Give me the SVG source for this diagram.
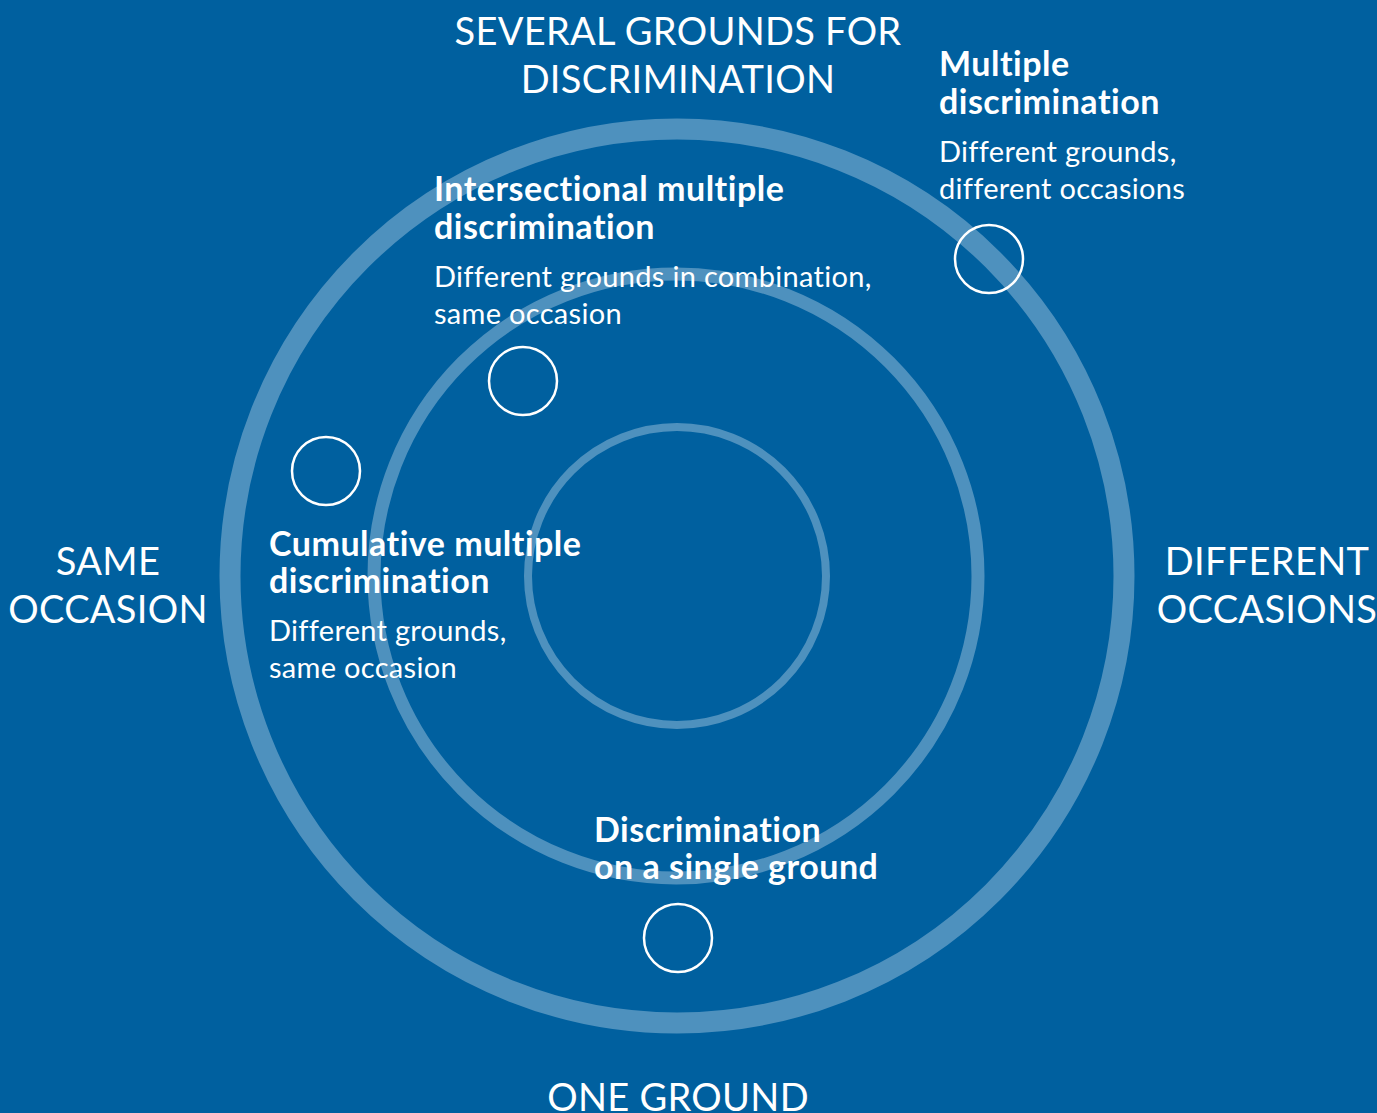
<svg xmlns="http://www.w3.org/2000/svg" width="1377" height="1113" viewBox="0 0 1377 1113">
<style>
.ring{fill:none;stroke:#4E91BE}
.dot{fill:none;stroke:#FFFFFF;stroke-width:2.5}
text{fill:#FFFFFF;font-family:Lato,"Liberation Sans",sans-serif}
.axis{font-size:38px;letter-spacing:0.3px;text-anchor:middle}
.head{font-size:34px;font-weight:bold;letter-spacing:0.5px}
.body{font-size:29px;letter-spacing:0.3px}
</style>
<rect x="0" y="0" width="1377" height="1113" fill="#00609F"/>
<g id="rings">
<circle class="ring" cx="677" cy="576" r="447" stroke-width="21"/>
<circle class="ring" cx="676" cy="576" r="302" stroke-width="13"/>
<circle class="ring" cx="677" cy="576" r="149" stroke-width="8"/>
</g>
<g id="axis-labels">
<text class="axis" x="678" y="45">SEVERAL GROUNDS FOR</text>
<text class="axis" x="678" y="93">DISCRIMINATION</text>
<text class="axis" x="108" y="575">SAME</text>
<text class="axis" x="108" y="623">OCCASION</text>
<text class="axis" x="1267" y="575">DIFFERENT</text>
<text class="axis" x="1267" y="623">OCCASIONS</text>
<text class="axis" x="678" y="1111">ONE GROUND</text>
</g>
<g id="node-multiple">
<circle class="dot" cx="989" cy="259" r="34"/>
<text class="head" x="939" y="76">Multiple</text>
<text class="head" x="939" y="114">discrimination</text>
<text class="body" x="939" y="162">Different grounds,</text>
<text class="body" x="939" y="199">different occasions</text>
</g>
<g id="node-intersectional">
<circle class="dot" cx="523" cy="381" r="34"/>
<text class="head" x="434" y="201">Intersectional multiple</text>
<text class="head" x="434" y="239">discrimination</text>
<text class="body" x="434" y="287">Different grounds in combination,</text>
<text class="body" x="434" y="324">same occasion</text>
</g>
<g id="node-cumulative">
<circle class="dot" cx="326" cy="471" r="34"/>
<text class="head" x="269" y="556">Cumulative multiple</text>
<text class="head" x="269" y="593">discrimination</text>
<text class="body" x="269" y="641">Different grounds,</text>
<text class="body" x="269" y="678">same occasion</text>
</g>
<g id="node-single">
<circle class="dot" cx="678" cy="938" r="34"/>
<text class="head" x="594" y="842">Discrimination</text>
<text class="head" x="594" y="879">on a single ground</text>
</g>
<g id="connectors"></g>
</svg>
